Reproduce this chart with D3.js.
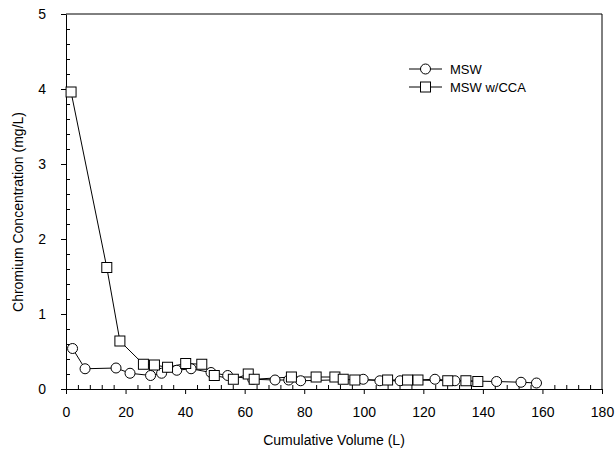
<!DOCTYPE html>
<html>
<head>
<meta charset="utf-8">
<script src="https://cdn.jsdelivr.net/npm/d3@7"></script>
<style>
  body { margin: 0; background: #fff; }
  svg text { font-family: "Liberation Sans", Arial, sans-serif; }
</style>
</head>
<body>
<div id="container"></div>
<script>
/* DATA */
const mswVolume = [2.2, 6.4, 16.8, 21.5, 28.4, 32.1, 37.2, 42, 48.7, 54.3, 62.7, 70.2, 74.8, 78.8, 99.8, 105.4, 112.2, 123.9, 130.6, 144.6, 152.8, 158];
const mswConc   = [0.54, 0.27, 0.28, 0.21, 0.18, 0.21, 0.25, 0.27, 0.22, 0.18, 0.13, 0.12, 0.12, 0.11, 0.13, 0.11, 0.11, 0.13, 0.11, 0.10, 0.09, 0.08];

const ccaVolume = [1.7, 13.7, 18.1, 26, 29.7, 34.1, 40.2, 45.6, 49.8, 56.2, 61.2, 63.2, 75.7, 84, 90.3, 93.1, 97, 108, 114.7, 118.2, 128.2, 134.3, 138.3];
const ccaConc   = [3.96, 1.62, 0.64, 0.33, 0.32, 0.29, 0.34, 0.33, 0.18, 0.13, 0.20, 0.13, 0.16, 0.16, 0.16, 0.13, 0.12, 0.12, 0.12, 0.12, 0.11, 0.11, 0.10];

const xTicks = [0, 20, 40, 60, 80, 100, 120, 140, 160, 180];
const yTicks = [0, 1, 2, 3, 4, 5];
const seriesNames = ["MSW", "MSW w/CCA"];

/* CONSTANTS */
const width = 616, height = 465;
const plotL = 66, plotR = 602, plotT = 14, plotB = 389;
const r = 5; // marker half-size

const svg = d3.select("#container")
  .append("svg")
  .attr("width", width)
  .attr("height", height);

/* SCALES */
const xScale = d3.scaleLinear().domain([0, 180]).range([plotL, plotR]);
const yScale = d3.scaleLinear().domain([0, 5]).range([plotB, plotT]);

// minor ticks (inward)
const xMinor = d3.range(0, 181, 4).filter(v => v % 20 !== 0);
const yMinor = d3.range(0, 5.001, 0.2).map(v => +v.toFixed(1)).filter(v => Math.abs(v - Math.round(v)) > 1e-6);

svg.append("g")
  .attr("transform", `translate(0,${plotB})`)
  .call(d3.axisBottom(xScale).tickValues(xMinor).tickSize(-4).tickFormat(""))
  .call(g => g.select(".domain").remove());

svg.append("g")
  .attr("transform", `translate(${plotL},0)`)
  .call(d3.axisLeft(yScale).tickValues(yMinor).tickSize(-4).tickFormat(""))
  .call(g => g.select(".domain").remove());

// major axes
svg.append("g")
  .attr("transform", `translate(0,${plotB})`)
  .call(d3.axisBottom(xScale).tickValues(xTicks).tickFormat(d3.format("d")).tickSizeInner(5).tickSizeOuter(0).tickPadding(13))
  .call(g => g.selectAll("text").attr("font-size", 14).attr("fill", "#000"));

svg.append("g")
  .attr("transform", `translate(${plotL},0)`)
  .call(d3.axisLeft(yScale).tickValues(yTicks).tickFormat(d3.format("d")).tickSizeInner(5).tickSizeOuter(0).tickPadding(15))
  .call(g => g.selectAll("text").attr("font-size", 14).attr("fill", "#000"));

svg.selectAll(".domain, .tick line").attr("stroke", "#000");

// frame top / right
svg.append("line").attr("x1", plotL).attr("x2", plotR).attr("y1", plotT).attr("y2", plotT).attr("stroke", "#000");
svg.append("line").attr("x1", plotR).attr("x2", plotR).attr("y1", plotT).attr("y2", plotB).attr("stroke", "#000");

// axis titles
svg.append("text")
  .attr("x", 334).attr("y", 445)
  .attr("text-anchor", "middle").attr("font-size", 14)
  .text("Cumulative Volume (L)");

svg.append("text")
  .attr("transform", "translate(23,212) rotate(-90)")
  .attr("text-anchor", "middle").attr("font-size", 14)
  .text("Chromium Concentration (mg/L)");

/* LINES + MARKERS */
const line = d3.line().x(d => xScale(d[0])).y(d => yScale(d[1]));
const msw = mswVolume.map((v, i) => [v, mswConc[i]]);
const cca = ccaVolume.map((v, i) => [v, ccaConc[i]]);

svg.append("path").datum(cca).attr("d", line).attr("fill", "none").attr("stroke", "#000");
svg.append("path").datum(msw).attr("d", line).attr("fill", "none").attr("stroke", "#000");

svg.selectAll("circle.msw")
  .data(msw)
  .join("circle")
  .attr("class", "msw")
  .attr("cx", d => xScale(d[0]))
  .attr("cy", d => yScale(d[1]))
  .attr("r", r)
  .attr("fill", "#fff")
  .attr("stroke", "#000");

svg.selectAll("rect.cca")
  .data(cca)
  .join("rect")
  .attr("class", "cca")
  .attr("x", d => xScale(d[0]) - r)
  .attr("y", d => yScale(d[1]) - r)
  .attr("width", 2 * r)
  .attr("height", 2 * r)
  .attr("fill", "#fff")
  .attr("stroke", "#000");

/* LEGEND */
const legend = svg.append("g").attr("transform", "translate(409,69)");
seriesNames.forEach((name, i) => {
  const g = legend.append("g").attr("transform", `translate(0,${i * 18})`);
  g.append("line").attr("x1", 0).attr("x2", 33).attr("stroke", "#000");
  if (i === 0) {
    g.append("circle").attr("cx", 16.5).attr("r", r).attr("fill", "#fff").attr("stroke", "#000");
  } else {
    g.append("rect").attr("x", 16.5 - r).attr("y", -r).attr("width", 2 * r).attr("height", 2 * r).attr("fill", "#fff").attr("stroke", "#000");
  }
  g.append("text").attr("x", 41).attr("y", 4.5).attr("font-size", 13).text(name);
});
</script>
</body>
</html>
